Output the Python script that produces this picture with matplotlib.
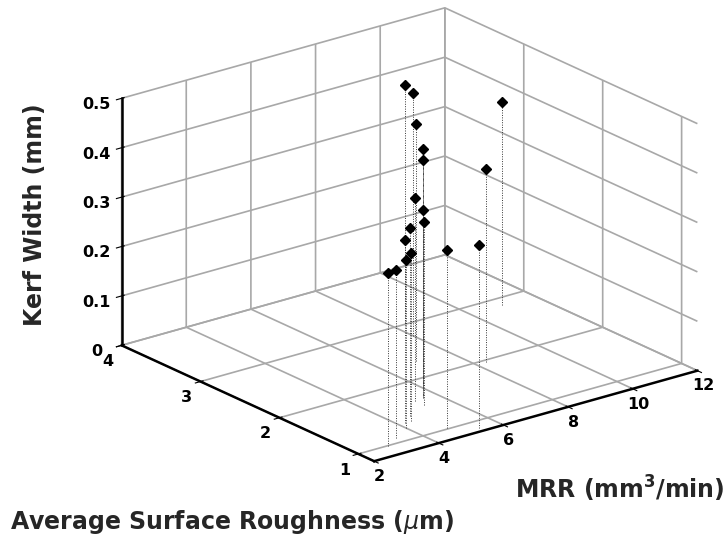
import numpy as np
import matplotlib
matplotlib.use("Agg")
import matplotlib.pyplot as plt
from mpl_toolkits.mplot3d import proj3d

# ---- data ----
mrr = [8.4, 8.0, 7.0, 6.1, 5.6, 5.3, 5.6, 5.3, 4.6, 4.2, 4.4, 4.0, 3.4, 2.9, 4.8, 5.4, 8.3, 11.0]
roughness = [3.03, 2.77, 2.32, 1.86, 1.66, 1.64, 1.65, 1.52, 1.41, 1.31, 1.32, 1.22, 1.10, 0.99, 1.03, 0.86, 1.96, 2.87]
kerf = [0.48, 0.49, 0.48, 0.48, 0.48, 0.41, 0.38, 0.37, 0.38, 0.37, 0.34, 0.34, 0.34, 0.35, 0.36, 0.37, 0.39, 0.41]

x_ticks = [2, 4, 6, 8, 10, 12]
y_ticks = [1, 2, 3, 4]
z_ticks = [0, 0.1, 0.2, 0.3, 0.4, 0.5]
z_ticklabels = ["0", "0.1", "0.2", "0.3", "0.4", "0.5"]
x_lim = (2, 12)
y_lim = (0.8, 4)
z_lim = (0, 0.5)

plt.rcParams["font.family"] = ["DejaVu Sans"]
plt.rcParams["grid.color"] = "#a8a8a8"
plt.rcParams["grid.linewidth"] = 1.2

W, H = 727, 538
fig = plt.figure(figsize=(W / 100, H / 100), dpi=100)
S0 = 500.0
ax = fig.add_axes([(W / 2 - S0 / 2) / W, (H / 2 - S0 / 2) / H, S0 / W, S0 / H],
                  projection="3d")
ax.set_proj_type("ortho")
ax.view_init(elev=21, azim=-128)
ax.set_box_aspect((1, 1, 0.645))

# stems (dotted) and markers
for xi, yi, zi in zip(mrr, roughness, kerf):
    ax.plot([xi, xi], [yi, yi], [0, zi], linestyle=(0, (1, 1.5)), color="#333333", linewidth=0.7)
ax.plot(mrr, roughness, kerf, linestyle="none", marker="D", markersize=4.6,
        color="k", markeredgecolor="k")

ax.set_xlim(*x_lim)
ax.set_ylim(*y_lim)
ax.set_zlim(*z_lim)
ax.set_xticks(x_ticks)
ax.set_yticks(y_ticks)
ax.set_zticks(z_ticks)
ax.set_xticklabels([str(t) for t in x_ticks], fontsize=11.5, fontweight="bold")
ax.set_yticklabels([str(t) for t in y_ticks], fontsize=11.5, fontweight="bold", ha="right")
ax.set_zticklabels(z_ticklabels, fontsize=11.5, fontweight="bold")
ax.tick_params(axis="x", pad=-3)
ax.tick_params(axis="y", pad=-2)
ax.tick_params(axis="z", pad=2)

for axis in (ax.xaxis, ax.yaxis, ax.zaxis):
    axis.set_pane_color((1, 1, 1, 0))
    axis.pane.set_edgecolor((1, 1, 1, 0))
    axis.line.set_color("k")
    axis.line.set_linewidth(1.8)
ax.zaxis.set_ticks_position("upper")
ax.grid(True)

# ---- place the axes so that the box corners land where the reference has them ----
fig.canvas.draw()

def to_px(x, y, z):
    X, Y, _ = proj3d.proj_transform(x, y, z, ax.M)
    dx, dy = ax.transData.transform((X, Y))
    return np.array([dx, H - dy])

corners = [(x_lim[0], y_lim[0], z_lim[0]), (x_lim[0], y_lim[1], z_lim[1]),
           (x_lim[1], y_lim[0], z_lim[0]), (x_lim[1], y_lim[1], z_lim[1])]
targets = np.array([(373, 460), (121, 97), (697, 372), (447, 9)], dtype=float)
P = np.array([to_px(*c) for c in corners])
pm, tm = P.mean(0), targets.mean(0)
s = ((P - pm) * (targets - tm)).sum() / ((P - pm) ** 2).sum()
o = tm - s * pm
c0 = np.array([W / 2, H / 2])
c_new = s * c0 + o
S_new = s * S0
ax.set_position([(c_new[0] - S_new / 2) / W, (H - c_new[1] - S_new / 2) / H,
                 S_new / W, S_new / H])

label_kw = dict(fontsize=17, fontweight="bold", color="#262626")
fig.text(35 / W, 1 - 215 / H, "Kerf Width (mm)", rotation=90, ha="center", va="center", **label_kw)
fig.text(725 / W, 1 - 489 / H, "MRR (mm$^\\mathbf{3}$/min)", ha="right", va="center", **label_kw)
fig.text(10 / W, 1 - 522 / H, "Average Surface Roughness ($\\mu$m)", ha="left", va="center", **label_kw)

fig.savefig("out.png", dpi=100)
